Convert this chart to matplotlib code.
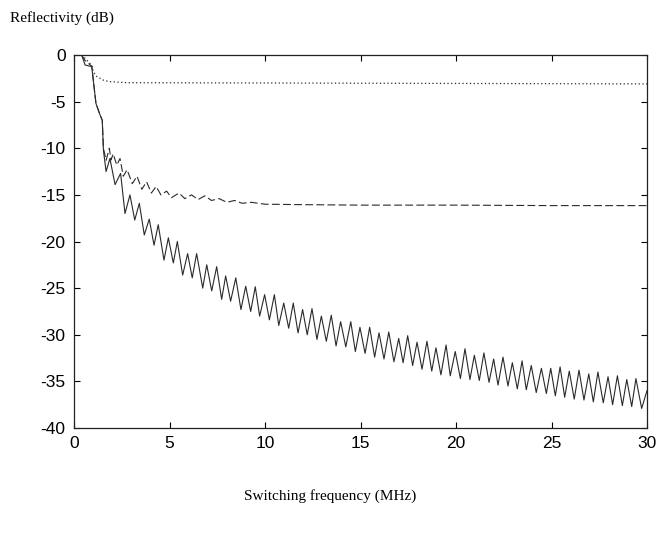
import matplotlib
matplotlib.use("Agg")
import matplotlib.pyplot as plt

plt.rcParams["axes.unicode_minus"] = False

# solid curve: peaks and troughs (MHz, dB)
solid_f = [0.40, 0.58, 0.93, 1.01, 1.15, 1.36, 1.48, 1.54, 1.68, 1.88, 2.15, 2.44, 2.67, 2.93,
           3.18, 3.42, 3.68, 3.94, 4.19, 4.41, 4.71, 4.94, 5.20, 5.41, 5.69, 5.95, 6.19, 6.42,
           6.74, 6.95, 7.21, 7.47, 7.73, 7.94, 8.20, 8.47, 8.74, 8.99, 9.25, 9.49, 9.72, 9.98,
           10.23, 10.49, 10.72, 10.98, 11.24, 11.48, 11.73, 11.97, 12.21, 12.46, 12.72, 12.95,
           13.21, 13.47, 13.72, 13.96, 14.23, 14.49, 14.73, 14.97, 15.24, 15.48, 15.74, 15.97,
           16.23, 16.48, 16.75, 17.00, 17.23, 17.47, 17.73, 17.96, 18.22, 18.48, 18.73, 18.95,
           19.21, 19.48, 19.70, 19.96, 20.23, 20.47, 20.73, 20.96, 21.22, 21.46, 21.73, 21.97,
           22.20, 22.46, 22.72, 22.95, 23.21, 23.46, 23.68, 23.94, 24.20, 24.47, 24.73, 24.96,
           25.20, 25.45, 25.69, 25.93, 26.19, 26.44, 26.70, 26.95, 27.19, 27.43, 27.71, 27.96,
           28.20, 28.45, 28.71, 28.94, 29.20, 29.42, 29.72, 30.00]
solid_db = [0.0, -1.07, -1.25, -2.7, -5.2, -6.4, -7.0, -10.2, -12.5, -11.1, -13.9, -12.7, -17.0, -15.0,
            -17.7, -15.9, -19.3, -17.6, -20.4, -18.2, -22.0, -19.6, -22.3, -20.0, -23.6, -21.3, -23.9, -21.3,
            -25.0, -22.5, -25.3, -22.7, -26.2, -23.7, -26.4, -23.9, -27.3, -24.8, -27.5, -24.85, -28.0, -25.7,
            -28.4, -25.7, -29.0, -26.6, -29.3, -26.6, -29.8, -27.3, -30.0, -27.2, -30.5, -28.0,
            -30.7, -27.9, -31.2, -28.6, -31.3, -28.6, -31.8, -29.2, -32.0, -29.2, -32.4, -29.8,
            -32.6, -29.7, -32.9, -30.4, -33.0, -30.1, -33.3, -30.8, -33.7, -30.7, -33.9, -31.4,
            -34.3, -31.1, -34.4, -31.8, -34.7, -31.5, -34.8, -32.2, -34.9, -31.95, -35.1, -32.6,
            -35.4, -32.4, -35.5, -33.0, -35.8, -32.8, -35.9, -33.3, -36.2, -33.6, -36.3, -33.6,
            -36.55, -33.45, -36.7, -33.9, -36.9, -33.8, -37.0, -34.2, -37.2, -34.0, -37.3, -34.5,
            -37.5, -34.4, -37.6, -34.8, -37.7, -34.7, -37.9, -36.0]

# dashed curve
dashed_f = [0.40, 0.58, 0.93, 1.01, 1.15, 1.36, 1.48, 1.54, 1.68, 1.85, 1.94, 2.05, 2.24, 2.41,
            2.58, 2.78, 3.05, 3.30, 3.55, 3.80, 4.05, 4.30, 4.55, 4.85, 5.10, 5.50, 5.80, 6.15,
            6.50, 6.85, 7.20, 7.60, 8.00, 8.40, 8.80, 9.30, 10.0, 12.0, 15.0, 20.0, 25.0, 30.0]
dashed_db = [0.0, -0.6, -1.2, -2.7, -5.2, -6.4, -7.0, -10.0, -11.3, -10.0, -11.25, -10.6, -11.8, -11.1,
             -13.0, -12.3, -13.8, -13.0, -14.4, -13.6, -14.8, -14.1, -15.0, -14.6, -15.3, -14.8, -15.4, -15.0,
             -15.5, -15.1, -15.6, -15.4, -15.8, -15.6, -15.9, -15.8, -16.0, -16.05, -16.1, -16.1, -16.15, -16.15]

# dotted curve
dotted_f = [0.40, 0.60, 0.93, 1.01, 1.19, 1.54, 1.88, 2.76, 9.7, 20.0, 30.0]
dotted_db = [0.0, -0.4, -1.1, -1.8, -2.3, -2.7, -2.86, -2.97, -3.0, -3.05, -3.1]

fig = plt.figure(figsize=(6.69, 5.34), dpi=100)
ax = fig.add_axes([74 / 669, 1 - 428 / 534, 573 / 669, 373 / 534])

ax.plot(solid_f, solid_db, color="#2a2a2a", lw=0.8)
ax.plot(dashed_f, dashed_db, color="#2a2a2a", lw=0.8, dashes=(7, 3))
ax.plot(dotted_f, dotted_db, color="#2a2a2a", lw=0.9, dashes=(1, 2))

ax.set_xlim(0, 30)
ax.set_ylim(-40, 0)
ax.set_xticks([0, 5, 10, 15, 20, 25, 30])
ax.set_yticks([0, -5, -10, -15, -20, -25, -30, -35, -40])
ax.tick_params(direction="in", length=4, width=0.8, top=True, right=True, labelsize=12.5, pad=6)
for lab in ax.get_xticklabels() + ax.get_yticklabels():
    lab.set_family("Liberation Sans")
for s in ax.spines.values():
    s.set_linewidth(0.9)
    s.set_color("#222222")

fig.text(10 / 669, 1 - 18 / 534, "Reflectivity (dB)", family="Liberation Serif",
         fontsize=11, ha="left", va="center")
fig.text(330 / 669, 1 - 496 / 534, "Switching frequency (MHz)", family="Liberation Serif",
         fontsize=11, ha="center", va="center")

fig.savefig("out.png", dpi=100)
